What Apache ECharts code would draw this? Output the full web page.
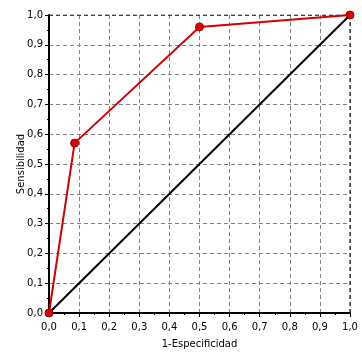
<!DOCTYPE html>
<html><head><meta charset="utf-8">
<script src="https://cdn.jsdelivr.net/npm/echarts@6/dist/echarts.min.js"></script>
<style>html,body{margin:0;padding:0;background:#fff}#c{width:362px;height:362px}</style>
</head><body><div id="c"></div>
<script>
const rocX = [0, 0.085, 0.5, 1.0];
const rocY = [0, 0.57, 0.96, 1.0];
const diagX = [0, 1];
const diagY = [0, 1];
const xName = '1-Especificidad';
const yName = 'Sensibilidad';

const fmt = v => v.toFixed(1).replace('.', ',');
const chart = echarts.init(document.getElementById('c'), null, {renderer: 'canvas'});
const axisCommon = {
  type: 'value', min: 0, max: 1, interval: 0.1,
  nameLocation: 'middle',
  nameMoveOverlap: false,
  nameTextStyle: {color: '#000', fontFamily: 'DejaVu Sans', fontSize: 10},
  axisLine: {show: true, lineStyle: {color: '#000', width: 2}},
  axisTick: {show: true, length: 4, inside: false, lineStyle: {color: '#000'}},
  minorTick: {show: true, splitNumber: 2, length: 2, lineStyle: {color: '#000'}},
  axisLabel: {color: '#000', fontFamily: 'DejaVu Sans', fontSize: 10, formatter: fmt},
  splitLine: {show: true, lineStyle: {color: '#808080', type: [4, 3], width: 1}}
};
chart.setOption({
  animation: false,
  grid: {left: 49, right: 12, top: 15, bottom: 49, show: true, borderColor: '#000', borderWidth: 0},
  xAxis: Object.assign({}, axisCommon, {name: xName, nameGap: 26,
    axisLabel: Object.assign({}, axisCommon.axisLabel, {margin: 9})}),
  yAxis: Object.assign({}, axisCommon, {name: yName, nameGap: 23,
    axisLabel: Object.assign({}, axisCommon.axisLabel, {margin: 6})}),
  series: [
    {type: 'line', data: diagX.map((x, i) => [x, diagY[i]]), symbol: 'none',
     lineStyle: {color: '#000', width: 2}, z: 2},
    {type: 'line', data: rocX.map((x, i) => [x, rocY[i]]), symbol: 'circle', symbolSize: 8,
     lineStyle: {color: '#d40000', width: 2},
     itemStyle: {color: '#e00000', borderColor: '#900000', borderWidth: 1}, z: 3},
    {type: 'line', data: [[0, 1], [1, 1], [1, 0]], symbol: 'none', silent: true,
     lineStyle: {color: '#000', width: 1, type: [4, 3]}, z: 1}
  ]
});
</script></body></html>
